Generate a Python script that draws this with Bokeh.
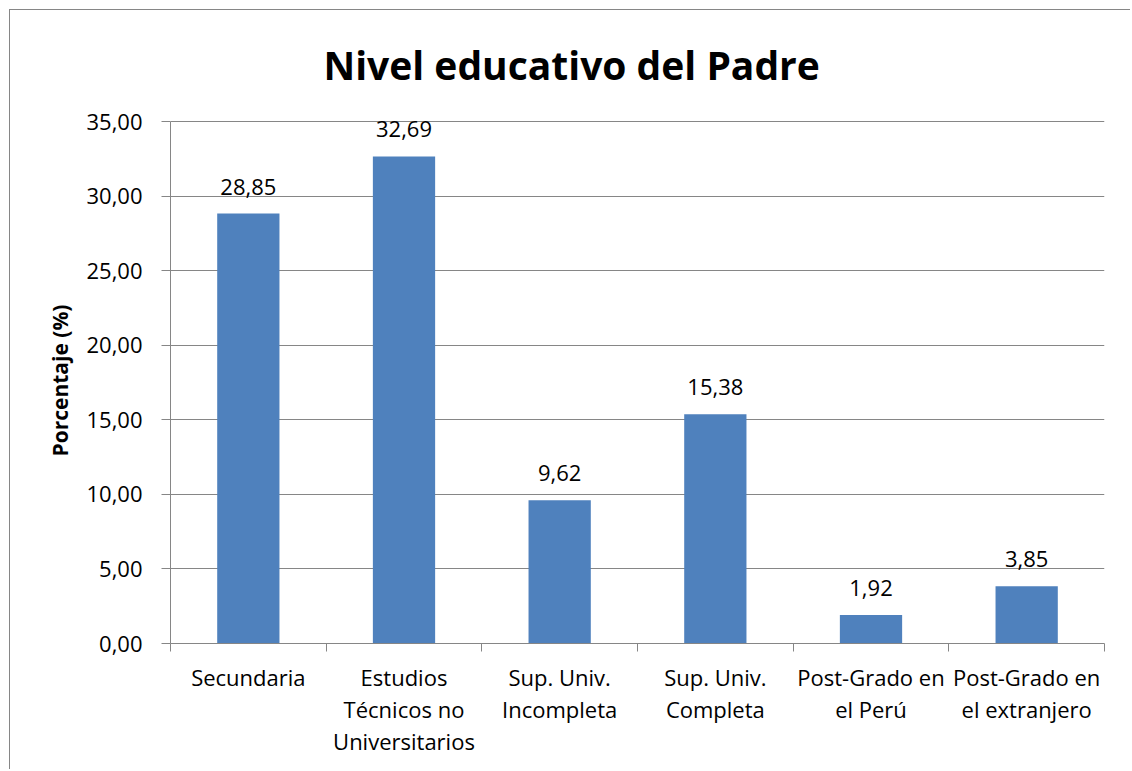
from bokeh.plotting import figure
from bokeh.models import (ColumnDataSource, FixedTicker, LabelSet, Range1d,
                          CustomJSTickFormatter)
from bokeh.core.properties import value
from bokeh.embed import file_html
from bokeh.resources import INLINE

# ---- data ----
categories = ["Secundaria",
              "Estudios\nTécnicos no\nUniversitarios",
              "Sup. Univ.\nIncompleta",
              "Sup. Univ.\nCompleta",
              "Post-Grado en\nel Perú",
              "Post-Grado en\nel extranjero"]
values = [28.85, 32.69, 9.62, 15.38, 1.92, 3.85]
y_ticks = [0, 5, 10, 15, 20, 25, 30, 35]
title_text = "Nivel educativo del Padre"
y_label = "Porcentaje (%)"

FONT = "Open Sans"
GRID = "#868686"
BAR = "#4F81BD"

n = len(categories)
centers = [i + 0.5 for i in range(n)]
bounds = list(range(n + 1))
labels = [f"{v:.2f}".replace(".", ",") for v in values]

src = ColumnDataSource(dict(x=centers, top=values, label=labels))

p = figure(width=1121, height=760,
           x_range=Range1d(0, n), y_range=Range1d(0, y_ticks[-1] + 0.3),
           output_backend="svg", toolbar_location=None, title=title_text,
           min_border_left=160, min_border_right=27,
           min_border_top=106, min_border_bottom=127)
p.margin = (9, 0, 0, 9)
p.styles = {"border-left": "1px solid #868686", "border-top": "1px solid #868686"}
p.outline_line_color = None
p.background_fill_color = "white"
p.border_fill_color = "white"

p.title.align = "left"
p.title.vertical_align = "middle"
p.title.offset = 153
p.title.standoff = 52
p.title.text_font = FONT
p.title.text_font_size = "39px"
p.title.text_font_style = "bold"
p.title.text_color = "black"

p.vbar(x="x", top="top", width=0.4, source=src, fill_color=BAR, line_color=None)

p.add_layout(LabelSet(x="x", y="top", text="label", source=src,
                      text_align="center", text_baseline="alphabetic", y_offset=19,
                      text_font=value(FONT), text_font_size="22px", text_color="black"))

# x axis
xa = p.xaxis[0]
xa.ticker = FixedTicker(ticks=centers, minor_ticks=bounds)
xa.major_label_overrides = {c: cat for c, cat in zip(centers, categories)}
xa.major_tick_out = 0
xa.major_tick_in = 0
xa.minor_tick_out = 8
xa.minor_tick_in = 0
xa.minor_tick_line_color = GRID
xa.axis_line_color = GRID
xa.major_label_standoff = 10
xa.major_label_text_font = FONT
xa.major_label_text_font_size = "22px"
xa.major_label_text_line_height = 1.067
xa.major_label_text_color = "black"

# y axis
ya = p.yaxis[0]
ya.bounds = (y_ticks[0], y_ticks[-1])
ya.ticker = FixedTicker(ticks=y_ticks, minor_ticks=[])
ya.formatter = CustomJSTickFormatter(code="return tick.toFixed(2).replace('.', ',');")
ya.major_tick_out = 9
ya.major_tick_in = 0
ya.minor_tick_out = 0
ya.minor_tick_in = 0
ya.major_tick_line_color = GRID
ya.axis_line_color = GRID
ya.major_label_standoff = 19
ya.major_label_text_font = FONT
ya.major_label_text_font_size = "22px"
ya.major_label_text_color = "black"
ya.axis_label = y_label
ya.axis_label_text_font = FONT
ya.axis_label_text_font_size = "21px"
ya.axis_label_text_font_style = "bold"
ya.axis_label_text_color = "black"
ya.axis_label_standoff = 9

p.xgrid.grid_line_color = None
p.ygrid.grid_line_color = GRID
p.ygrid.ticker = FixedTicker(ticks=y_ticks)

open("out.html", "w").write(file_html(p, INLINE))
